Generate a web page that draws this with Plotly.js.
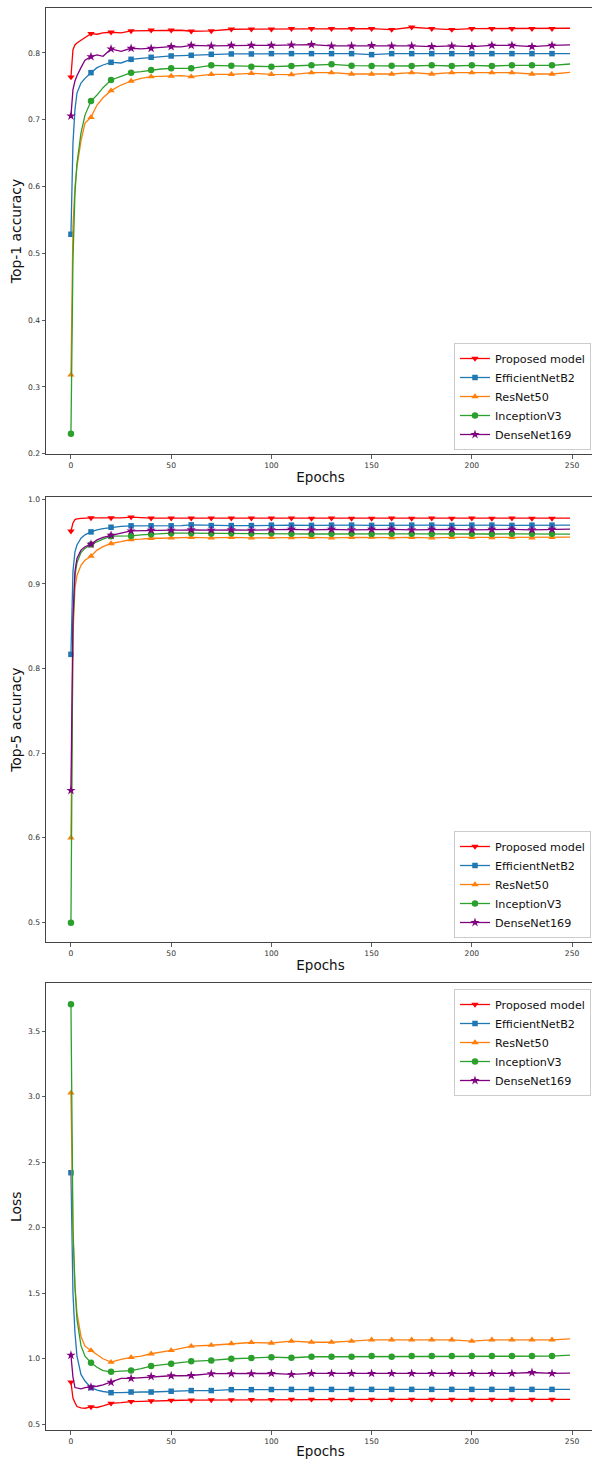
<!DOCTYPE html>
<html>
<head>
<meta charset="utf-8">
<script src="https://cdn.plot.ly/plotly-3.0.1.min.js"></script>
<style>
html,body{margin:0;padding:0;overflow:hidden;background:#fff;}
#chart{width:600px;height:1459px;}
</style>
</head>
<body>
<div id="chart"></div>
<script>
// ---- data ----
const EPOCHS = [0,1,2,3,5,7,10,13,16,20,25,30,35,40,45,50,55,60,70,80,90,100,110,120,130,140,150,160,170,180,190,200,210,220,230,240,249];
const MODEL_NAMES = ['Proposed model','EfficientNetB2','ResNet50','InceptionV3','DenseNet169'];

const TOP1_PROPOSED = [0.764,0.805,0.812,0.815,0.819,0.823,0.829,0.828,0.830,0.831,0.830,0.833,0.833,0.834,0.834,0.834,0.834,0.8325,0.833,0.8355,0.8355,0.8355,0.8364,0.8364,0.8364,0.8364,0.8364,0.835,0.8385,0.8364,0.835,0.8364,0.8364,0.8364,0.8364,0.8364,0.837];
const TOP1_EFFICIENT = [0.5286,0.665,0.715,0.740,0.755,0.762,0.7705,0.778,0.782,0.786,0.785,0.7905,0.792,0.7935,0.795,0.7955,0.796,0.7965,0.798,0.7985,0.7985,0.799,0.799,0.799,0.799,0.799,0.7975,0.799,0.799,0.799,0.799,0.799,0.799,0.799,0.799,0.799,0.799];
const TOP1_RESNET = [0.318,0.54,0.60,0.63,0.668,0.695,0.7037,0.722,0.733,0.7436,0.752,0.758,0.762,0.7645,0.765,0.7655,0.766,0.7645,0.768,0.768,0.7695,0.768,0.7676,0.7705,0.7705,0.7685,0.7685,0.7685,0.7705,0.7685,0.7705,0.7705,0.7705,0.7705,0.7685,0.7685,0.771];
const TOP1_INCEPTION = [0.23,0.49,0.59,0.635,0.68,0.707,0.728,0.737,0.748,0.7596,0.765,0.7705,0.772,0.7745,0.776,0.777,0.777,0.777,0.7815,0.781,0.7795,0.7795,0.7805,0.7815,0.783,0.781,0.7805,0.781,0.7805,0.7815,0.7805,0.7815,0.7805,0.7815,0.7815,0.7815,0.7835];
const TOP1_DENSE = [0.7057,0.745,0.758,0.766,0.778,0.789,0.7945,0.797,0.795,0.806,0.8025,0.807,0.806,0.807,0.808,0.8095,0.809,0.8115,0.8105,0.8115,0.8115,0.8115,0.812,0.8125,0.8105,0.8105,0.811,0.8105,0.8105,0.8095,0.8105,0.8095,0.8115,0.8115,0.8095,0.8115,0.812];

const TOP5_PROPOSED = [0.9624,0.972,0.976,0.977,0.9775,0.978,0.978,0.978,0.978,0.978,0.978,0.979,0.978,0.9777,0.9777,0.9777,0.9777,0.9777,0.9777,0.9777,0.9777,0.9777,0.9777,0.9774,0.9777,0.9774,0.9774,0.9777,0.9774,0.9777,0.9774,0.9777,0.9774,0.9777,0.9774,0.9774,0.9777];
const TOP5_EFFICIENT = [0.8168,0.915,0.938,0.946,0.954,0.958,0.9615,0.964,0.9655,0.967,0.968,0.9687,0.9687,0.9687,0.9687,0.9687,0.969,0.9698,0.969,0.969,0.969,0.9695,0.9695,0.9692,0.9695,0.9695,0.9692,0.9695,0.9695,0.9695,0.9692,0.9695,0.9695,0.9692,0.9695,0.9695,0.9695];
const TOP5_RESNET = [0.600,0.84,0.895,0.910,0.922,0.928,0.9328,0.940,0.944,0.9478,0.950,0.9525,0.953,0.954,0.954,0.9545,0.9545,0.955,0.9545,0.955,0.9545,0.955,0.9548,0.955,0.9545,0.955,0.9553,0.9548,0.955,0.9545,0.955,0.955,0.9548,0.955,0.9545,0.955,0.9553];
const TOP5_INCEPTION = [0.4996,0.85,0.91,0.925,0.937,0.942,0.9466,0.950,0.953,0.9565,0.9565,0.9568,0.958,0.9588,0.9595,0.960,0.960,0.960,0.9595,0.960,0.9595,0.960,0.9592,0.959,0.9592,0.9595,0.959,0.9592,0.9592,0.959,0.9592,0.9592,0.959,0.9592,0.9592,0.9592,0.9588];
const TOP5_DENSE = [0.6559,0.86,0.915,0.93,0.940,0.944,0.947,0.952,0.955,0.9576,0.960,0.9627,0.963,0.9635,0.9635,0.9635,0.9635,0.964,0.9635,0.964,0.9635,0.964,0.9645,0.964,0.9645,0.964,0.9645,0.9645,0.964,0.9645,0.9645,0.964,0.9645,0.9645,0.964,0.9645,0.9647];

const LOSS_PROPOSED = [0.822,0.70,0.665,0.635,0.625,0.622,0.632,0.628,0.64,0.66,0.665,0.673,0.675,0.678,0.68,0.683,0.683,0.684,0.685,0.686,0.687,0.688,0.69,0.69,0.69,0.69,0.69,0.69,0.69,0.69,0.69,0.69,0.69,0.69,0.69,0.69,0.69];
const LOSS_EFFICIENT = [2.42,1.50,1.20,1.02,0.88,0.83,0.779,0.76,0.75,0.741,0.742,0.746,0.746,0.746,0.75,0.752,0.754,0.757,0.757,0.764,0.764,0.765,0.766,0.766,0.766,0.766,0.766,0.766,0.766,0.766,0.766,0.766,0.766,0.766,0.766,0.766,0.766];
const LOSS_RESNET = [3.03,1.95,1.55,1.35,1.17,1.096,1.063,1.03,1.00,0.974,0.995,1.01,1.02,1.038,1.05,1.063,1.08,1.096,1.103,1.116,1.124,1.12,1.134,1.126,1.126,1.134,1.1446,1.1446,1.1446,1.1446,1.1446,1.134,1.1446,1.1446,1.1446,1.1446,1.152];
const LOSS_INCEPTION = [3.706,2.00,1.55,1.30,1.10,1.02,0.97,0.935,0.91,0.90,0.905,0.91,0.925,0.944,0.953,0.961,0.97,0.98,0.987,1.0,1.005,1.012,1.0076,1.015,1.015,1.015,1.02,1.015,1.02,1.02,1.02,1.02,1.02,1.02,1.02,1.02,1.027];
const LOSS_DENSE = [1.027,0.86,0.78,0.776,0.77,0.78,0.784,0.79,0.80,0.82,0.85,0.85,0.855,0.865,0.868,0.87,0.87,0.872,0.886,0.886,0.886,0.888,0.88,0.888,0.888,0.888,0.888,0.888,0.888,0.888,0.888,0.888,0.888,0.888,0.895,0.888,0.89];

// ---- styles ----
const COLORS = ['#ff0000','#1f77b4','#ff7f0e','#2ca02c','#800080'];
const SYMBOLS = ['triangle-down','square','triangle-up','circle','star'];
const MSIZES = [6.5,5.5,6.5,6.5,7];
const FONT = 'DejaVu Sans, Arial, sans-serif';

const panels = [
  {series:[TOP1_PROPOSED,TOP1_EFFICIENT,TOP1_RESNET,TOP1_INCEPTION,TOP1_DENSE], xa:'x', ya:'y', legend:'legend'},
  {series:[TOP5_PROPOSED,TOP5_EFFICIENT,TOP5_RESNET,TOP5_INCEPTION,TOP5_DENSE], xa:'x2', ya:'y2', legend:'legend2'},
  {series:[LOSS_PROPOSED,LOSS_EFFICIENT,LOSS_RESNET,LOSS_INCEPTION,LOSS_DENSE], xa:'x3', ya:'y3', legend:'legend3'}
];

const traces = [];
panels.forEach(p => {
  p.series.forEach((vals, i) => {
    const mcol = EPOCHS.map(e => (e % 10 === 0) ? COLORS[i] : 'rgba(0,0,0,0)');
    traces.push({
      x: EPOCHS, y: vals, name: MODEL_NAMES[i], type: 'scatter', mode: 'lines+markers',
      xaxis: p.xa, yaxis: p.ya, legend: p.legend,
      line: {color: COLORS[i], width: 1.3},
      marker: {symbol: SYMBOLS[i], size: MSIZES[i], color: mcol, line: {width: 0}},
      hoverinfo: 'skip'
    });
  });
});

const W = 600, H = 1459;
const xdom = [46/W, 595/W];
function ydom(top, bottom){ return [1 - bottom/H, 1 - top/H]; }

function xaxisDef(anchor){
  return {
    domain: xdom, anchor: anchor, range: [-12.45, 261.45],
    tickvals: [0,50,100,150,200,250], ticks: 'outside', ticklen: 3.5, tickwidth: 0.8, tickcolor: '#333',
    showline: true, linecolor: '#444', linewidth: 1, mirror: true, showgrid: false, zeroline: false,
    tickfont: {family: FONT, size: 7.6, color: '#333'},
    title: {text: 'Epochs', font: {family: FONT, size: 13.5, color: '#111'}, standoff: 3}
  };
}
function yaxisDef(anchor, range, dtick, title){
  return {
    domain: null, anchor: anchor, range: range, dtick: dtick, tickformat: '.1f',
    ticks: 'outside', ticklen: 3.5, tickwidth: 0.8, tickcolor: '#333',
    showline: true, linecolor: '#444', linewidth: 1, mirror: true, showgrid: false, zeroline: false,
    tickfont: {family: FONT, size: 7.6, color: '#333'},
    title: {text: title, font: {family: FONT, size: 13.9, color: '#111'}, standoff: 3}
  };
}

const ya1 = yaxisDef('x', [0.1997, 0.8673], 0.1, 'Top-1 accuracy'); ya1.domain = ydom(8, 454);
const ya2 = yaxisDef('x2', [0.4768, 1.0024], 0.1, 'Top-5 accuracy'); ya2.domain = ydom(497.3, 942);
const ya3 = yaxisDef('x3', [0.456, 3.866], 0.5, 'Loss'); ya3.domain = ydom(983.3, 1430);

function legendDef(px, anchor){
  return {
    x: 591/W, xanchor: 'right', y: 1 - px/H, yanchor: anchor,
    bgcolor: 'rgba(255,255,255,0.8)', bordercolor: '#cccccc', borderwidth: 1,
    font: {family: FONT, size: 11.2, color: '#111'}, tracegroupgap: 0, itemwidth: 30
  };
}

const layout = {
  width: W, height: H, margin: {l: 0, r: 0, t: 0, b: 0},
  paper_bgcolor: '#fff', plot_bgcolor: '#fff', showlegend: true,
  xaxis: xaxisDef('y'), xaxis2: xaxisDef('y2'), xaxis3: xaxisDef('y3'),
  yaxis: ya1, yaxis2: ya2, yaxis3: ya3,
  legend: legendDef(450, 'bottom'), legend2: legendDef(938, 'bottom'), legend3: legendDef(989, 'top')
};

Plotly.newPlot('chart', traces, layout, {staticPlot: true, displayModeBar: false});
</script>
</body>
</html>
